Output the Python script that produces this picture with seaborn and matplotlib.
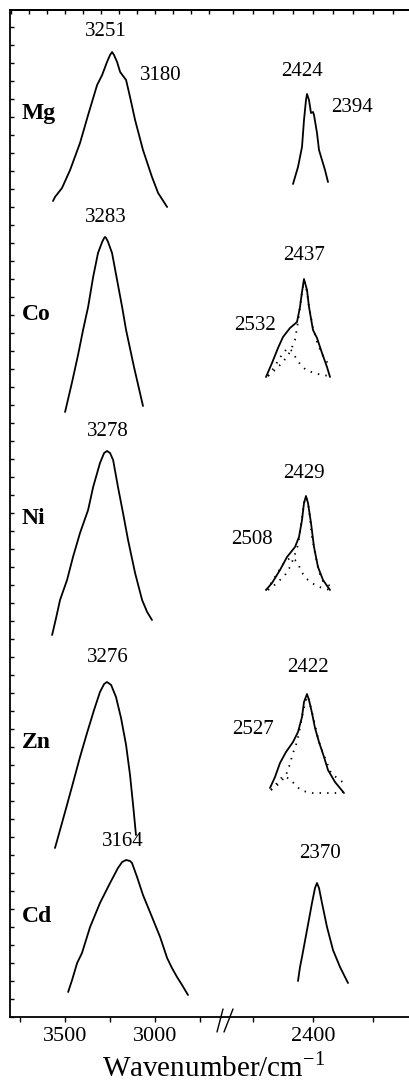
import numpy as np
import pandas as pd
import matplotlib
matplotlib.use("Agg")
import matplotlib.pyplot as plt
from matplotlib.lines import Line2D
import seaborn as sns

# ---------------- data (wavenumber / cm-1, intensity with offsets) ----------------
mg_hi_wn = [3567, 3556, 3517, 3472, 3417, 3372, 3322, 3294, 3267, 3250, 3239, 3228, 3211, 3194, 3161, 3139, 3111, 3067, 3017, 2983, 2933]
mg_hi_in = [81.6, 82.0, 82.9, 84.7, 87.4, 90.2, 93.2, 94.2, 95.5, 96.2, 96.5, 96.2, 95.5, 94.5, 93.7, 92.0, 89.7, 86.7, 84.0, 82.4, 81.0]
mg_lo_wn = [2500, 2475, 2455, 2445, 2435, 2430, 2420, 2410, 2400, 2395, 2380, 2370, 2355, 2340, 2325]
mg_lo_in = [83.3, 85.0, 87.0, 89.7, 91.7, 92.3, 91.7, 90.4, 90.5, 90.2, 88.4, 86.7, 85.7, 84.7, 83.5]

co_hi_wn = [3500, 3461, 3428, 3400, 3372, 3344, 3317, 3294, 3283, 3278, 3272, 3261, 3239, 3211, 3183, 3161, 3117, 3067]
co_hi_in = [60.5, 63.5, 66.2, 68.7, 71.0, 74.0, 76.4, 77.5, 77.9, 78.0, 77.9, 77.5, 76.4, 73.7, 71.0, 68.7, 65.0, 61.1]
co_lo_wn = [2635, 2605, 2575, 2550, 2515, 2480, 2465, 2455, 2445, 2430, 2420, 2400, 2380, 2355, 2330, 2315]
co_lo_in = [64.0, 65.4, 66.9, 68.0, 68.9, 69.5, 71.0, 72.5, 73.8, 72.7, 71.0, 68.7, 67.9, 66.4, 65.0, 64.0]
co_fa_wn = [2625, 2590, 2550, 2515, 2490, 2475, 2465, 2455, 2445, 2430, 2420, 2400, 2380, 2355, 2330, 2310]
co_fa_in = [64.1, 64.7, 65.5, 66.5, 67.7, 69.5, 71.0, 72.5, 73.6, 72.5, 71.0, 68.9, 67.5, 66.3, 65.5, 65.0]
co_fb_wn = [2625, 2600, 2575, 2550, 2525, 2505, 2485, 2465, 2435, 2395, 2355, 2315]
co_fb_in = [64.1, 64.8, 65.6, 66.4, 66.9, 66.6, 65.9, 65.3, 64.7, 64.4, 64.2, 64.1]

ni_hi_wn = [3572, 3550, 3528, 3489, 3456, 3417, 3372, 3344, 3306, 3283, 3267, 3250, 3233, 3206, 3178, 3150, 3111, 3072, 3044, 3017]
ni_hi_in = [38.2, 39.9, 41.7, 43.7, 46.0, 48.4, 50.7, 53.0, 55.4, 56.4, 56.6, 56.4, 55.7, 53.0, 50.4, 47.7, 44.4, 41.7, 40.5, 39.7]
ni_lo_wn = [2635, 2605, 2565, 2530, 2490, 2470, 2455, 2445, 2435, 2425, 2410, 2395, 2375, 2350, 2315]
ni_lo_in = [42.7, 43.4, 44.7, 46.0, 47.0, 48.0, 49.7, 51.4, 52.1, 51.4, 49.4, 47.0, 45.0, 43.7, 42.7]
ni_fa_wn = [2625, 2610, 2575, 2540, 2515, 2495, 2475, 2465, 2455, 2445, 2435, 2425, 2415, 2405, 2385, 2370, 2350, 2315]
ni_fa_in = [42.7, 42.9, 43.5, 44.2, 45.0, 46.0, 47.2, 48.5, 49.9, 51.4, 52.0, 51.4, 49.9, 48.0, 45.9, 44.5, 43.6, 43.1]
ni_fb_wn = [2635, 2605, 2575, 2545, 2515, 2490, 2470, 2450, 2425, 2390, 2355, 2315]
ni_fb_in = [42.7, 43.5, 44.5, 45.4, 45.9, 45.7, 45.1, 44.3, 43.7, 43.2, 42.9, 42.7]

zn_hi_wn = [3556, 3528, 3494, 3456, 3417, 3378, 3339, 3306, 3283, 3267, 3244, 3217, 3189, 3161, 3139, 3122, 3106]
zn_hi_in = [16.9, 18.7, 20.9, 23.4, 26.0, 28.4, 30.7, 32.5, 33.3, 33.5, 33.2, 32.0, 29.9, 27.2, 24.2, 21.2, 18.2]
zn_lo_wn = [2615, 2590, 2565, 2535, 2500, 2475, 2455, 2445, 2430, 2420, 2405, 2390, 2370, 2345, 2325, 2290, 2245]
zn_lo_in = [22.9, 24.0, 25.4, 26.5, 27.5, 28.5, 30.0, 31.5, 32.3, 31.7, 30.4, 28.9, 27.5, 26.0, 24.7, 23.5, 22.4]
zn_fa_wn = [2610, 2565, 2535, 2520, 2500, 2480, 2465, 2450, 2435, 2430, 2420, 2405, 2390, 2375, 2365, 2350, 2330, 2310, 2280, 2245]
zn_fa_in = [22.7, 23.4, 24.2, 25.0, 26.4, 27.5, 28.9, 30.5, 31.7, 32.1, 31.7, 30.5, 29.2, 27.9, 27.2, 26.4, 25.4, 24.4, 23.9, 23.4]
zn_fb_wn = [2610, 2580, 2550, 2515, 2480, 2450, 2405, 2365, 2325, 2280, 2245]
zn_fb_in = [22.7, 23.4, 24.1, 23.8, 23.0, 22.6, 22.4, 22.4, 22.4, 22.4, 22.5]

cd_hi_wn = [3483, 3461, 3433, 3406, 3361, 3306, 3250, 3206, 3183, 3161, 3139, 3128, 3100, 3067, 3017, 2972, 2933, 2906, 2878, 2850, 2817]
cd_hi_in = [2.5, 3.7, 5.4, 6.4, 9.0, 11.4, 13.4, 14.9, 15.5, 15.7, 15.6, 15.4, 14.0, 12.2, 10.0, 8.0, 5.9, 4.9, 4.0, 3.2, 2.2]
cd_lo_wn = [2475, 2465, 2455, 2430, 2405, 2390, 2380, 2370, 2355, 2330, 2300, 2265, 2225]
cd_lo_in = [3.6, 5.0, 6.0, 8.7, 11.4, 12.9, 13.4, 12.9, 11.4, 9.0, 6.7, 5.0, 3.4]

metals = ["Mg", "Co", "Ni", "Zn", "Cd"]
metal_y = [90.4, 70.2, 49.8, 27.5, 10.1]

peak_text = ["3251", "3180", "3283", "3278", "3276", "3164"]
peak_x = [3272, 2967, 3272, 3261, 3261, 3178]
peak_y = [98.5, 94.1, 79.9, 58.6, 35.9, 17.5]
low_text = ["2424", "2394", "2437", "2532", "2429", "2508", "2422", "2527", "2370"]
low_x = [2455, 2205, 2445, 2690, 2445, 2705, 2425, 2700, 2365]
low_y = [94.5, 90.9, 76.2, 69.2, 54.4, 47.8, 34.9, 28.7, 16.3]

x_major_left = [3500, 3000]
x_minor_left = [3750, 3250, 2750]
x_major_right = [2400]
x_minor_right = [2700, 2100]

# ---------------- style ----------------
sns.set_style("ticks")
plt.rcParams["font.family"] = ["Liberation Serif", "DejaVu Serif"]
plt.rcParams["mathtext.fontset"] = "custom"
plt.rcParams["mathtext.rm"] = "Liberation Serif"
for key in ("text.color", "axes.labelcolor", "xtick.color", "ytick.color", "axes.edgecolor"):
    plt.rcParams[key] = "black"

W, H = 410, 1084
fig = plt.figure(figsize=(W / 100, H / 100), dpi=100)
bot = 1 - 1017 / H
hgt = 1007 / H
ax1 = fig.add_axes([10 / W, bot, 212 / W, hgt])
ax2 = fig.add_axes([222 / W, bot, 194 / W, hgt])

solid = dict(color="black", linewidth=1.3, sort=False, estimator=None)
dotted = dict(color="black", linewidth=1.3, sort=False, estimator=None, linestyle=(0, (0.8, 3.4)))

def draw(ax, wn, inten, style):
    df = pd.DataFrame({"wn": wn, "a": inten})
    sns.lineplot(data=df, x="wn", y="a", ax=ax, **style)

for wn, it in [(mg_hi_wn, mg_hi_in), (co_hi_wn, co_hi_in), (ni_hi_wn, ni_hi_in),
               (zn_hi_wn, zn_hi_in), (cd_hi_wn, cd_hi_in)]:
    draw(ax1, wn, it, solid)
for wn, it in [(mg_lo_wn, mg_lo_in), (co_lo_wn, co_lo_in), (ni_lo_wn, ni_lo_in),
               (zn_lo_wn, zn_lo_in), (cd_lo_wn, cd_lo_in)]:
    draw(ax2, wn, it, solid)
for wn, it in [(co_fa_wn, co_fa_in), (co_fb_wn, co_fb_in), (ni_fa_wn, ni_fa_in),
               (ni_fb_wn, ni_fb_in), (zn_fa_wn, zn_fa_in), (zn_fb_wn, zn_fb_in)]:
    draw(ax2, wn, it, dotted)

ax1.set_xlim(3806, 2628)
ax2.set_xlim(2855, 1885)
for ax in (ax1, ax2):
    ax.set_ylim(0, 100.7)
    ax.set_xlabel("")
    ax.set_ylabel("")
    for s in ax.spines.values():
        s.set_linewidth(1.3)
    ax.spines["right"].set_visible(False)
ax2.spines["left"].set_visible(False)

ax1.set_xticks(x_major_left)
ax1.set_xticks(x_minor_left, minor=True)
ax2.set_xticks(x_major_right)
ax2.set_xticks(x_minor_right, minor=True)
for ax in (ax1, ax2):
    ax.tick_params(axis="x", which="both", direction="out", length=3.5, width=1.0,
                   labelsize=16, pad=4, colors="black")

ax1.set_yticks(np.arange(0, 100.7, 1.8))
ax1.tick_params(axis="y", direction="in", length=3, width=1.0, labelleft=False)
ax2.set_yticks([])

for ax, lo, hi in ((ax1, 2700, 3800), (ax2, 1900, 2800)):
    sec = ax.secondary_xaxis("top")
    sec.set_xticks(np.arange(lo, hi + 1, 100))
    sec.tick_params(direction="in", length=3, width=1.0, labeltop=False)
    sec.spines["top"].set_linewidth(1.3)

for name, y in zip(metals, metal_y):
    ax1.text(3739, y, name, fontsize=17, fontweight="bold", ha="left", va="center")
for t, x, y in zip(peak_text, peak_x, peak_y):
    ax1.text(x, y, t, fontsize=15, ha="center", va="center")
for t, x, y in zip(low_text, low_x, low_y):
    ax2.text(x, y, t, fontsize=15, ha="center", va="center")

fig.text(214 / W, 1 - 1067 / H, "Wavenumber/cm$^{\\mathregular{-1}}$", fontsize=21,
         ha="center", va="center")

for x0, x1 in ((217, 223), (224, 233)):
    fig.add_artist(Line2D([x0 / W, x1 / W], [1 - 1032 / H, 1 - 1009 / H],
                          transform=fig.transFigure, color="black", lw=1.0))

fig.savefig("out.png", dpi=100)
